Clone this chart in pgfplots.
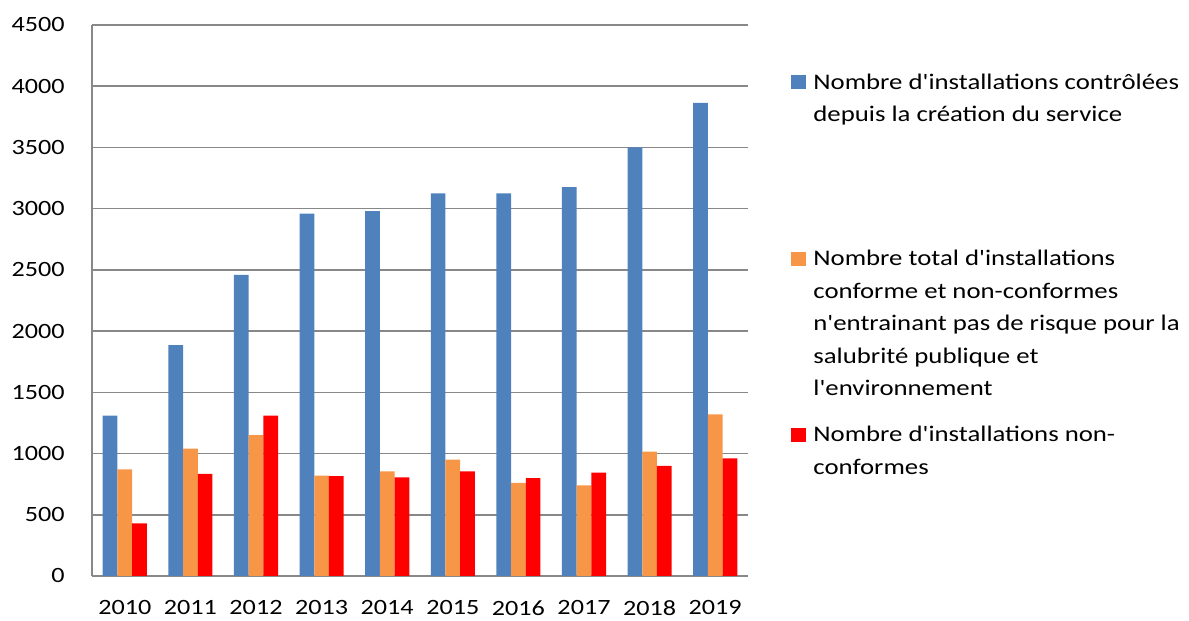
\documentclass[border=0pt]{standalone}
\usepackage{fontspec}
\setmainfont{Carlito}[FakeStretch=1.2, Ligatures=TeXOff]
\usepackage{pgfplots}
\pgfplotsset{compat=1.18}
\definecolor{cblue}{HTML}{4F81BD}
\definecolor{corange}{HTML}{F79646}
\definecolor{cred}{HTML}{FF0000}
\definecolor{cgrid}{HTML}{888888}
\newcommand{\lent}[1]{\parbox[t]{185pt}{\raggedright\rule{0pt}{10pt}#1}}
\pgfplotsset{
  base/.style={
    scale only axis,
    width=328pt, height=275.5pt,
    xmin=-0.5, xmax=9.5,
    ymin=0, ymax=4500,
    legend image code/.code={\fill[##1] (0pt,0pt) rectangle (7.4pt,7.2pt);},
    legend style={anchor=north west, draw=none, fill=none,
      inner sep=0pt, outer sep=0pt, row sep=0pt, column sep=1.8pt,
      font=\fontsize{11.15}{16.2}\selectfont,
      cells={anchor=base west, inner sep=0pt}},
  },
}
\begin{document}
\begin{tikzpicture}
\path (-46pt,-22.5pt) rectangle (548.5pt,288pt);
\begin{axis}[
  base,
  ytick={0,500,...,4500},
  xtick={0,...,9},
  xticklabels={2010,2011,2012,2013,2014,2015,2016,2017,2018,2019},
  ybar=0pt, bar width=7.35pt,
  legend image code/.code={\fill[#1] (0pt,0pt) rectangle (7.4pt,7.2pt);},
  axis x line*=bottom, axis y line*=left,
  axis line style={cgrid, line width=0.8pt},
  ymajorgrids, grid style={cgrid, line width=0.8pt},
  major tick length=0pt,
  tick style={draw=none},
  /pgf/number format/1000 sep={},
  /pgf/number format/assume math mode=true,
  ticklabel style={font=\fontsize{10.9}{12}\selectfont},
  yticklabel style={anchor=east, inner sep=0pt, xshift=-13.5pt},
  xticklabel style={anchor=north, inner sep=0pt, yshift=-12pt},
  legend style={at={(1.06555,0.9274)}},
]
\addplot[fill=cblue, draw=none] coordinates {(0,1310) (1,1885) (2,2460) (3,2960) (4,2980) (5,3125) (6,3125) (7,3175) (8,3500) (9,3865)};
\addlegendentry{\lent{Nombre d'installations contrôlées\\depuis la création du service}}
\addplot[fill=corange, draw=none] coordinates {(0,870) (1,1040) (2,1150) (3,820) (4,855) (5,950) (6,760) (7,740) (8,1015) (9,1320)};
\addplot[fill=cred, draw=none] coordinates {(0,430) (1,835) (2,1310) (3,815) (4,805) (5,855) (6,800) (7,845) (8,900) (9,960)};
\end{axis}
\begin{axis}[base, hide axis, legend style={at={(1.06555,0.6062)}}]
\addlegendimage{fill=corange, draw=none}
\addlegendentry{\lent{Nombre total d'installations\\conforme et non-conformes\\n'entrainant pas de risque pour la\\salubrité publique et\\l'environnement}}
\end{axis}
\begin{axis}[base, hide axis, legend style={at={(1.06555,0.2868)}}]
\addlegendimage{fill=cred, draw=none}
\addlegendentry{\lent{Nombre d'installations non-\\conformes}}
\end{axis}
\end{tikzpicture}
\end{document}
